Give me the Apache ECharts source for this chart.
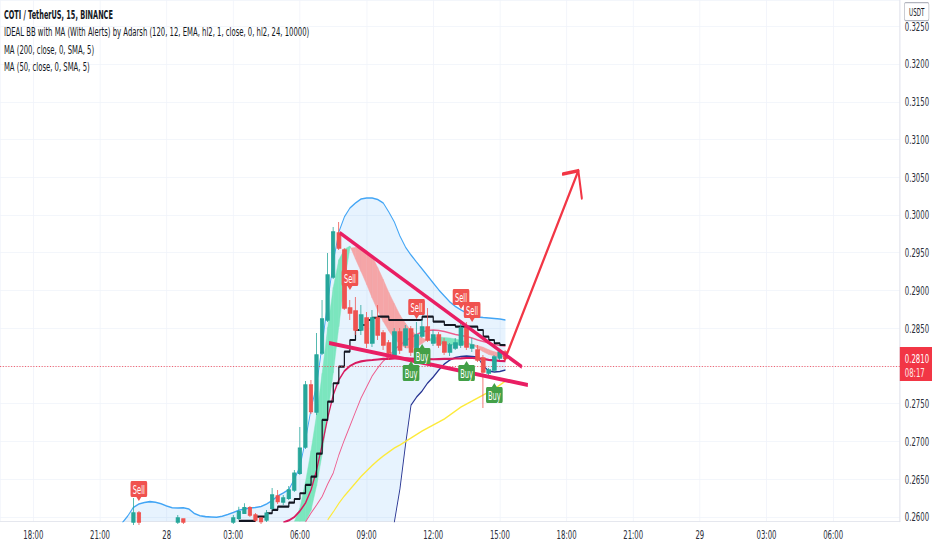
<!DOCTYPE html>
<html><head><meta charset="utf-8">
<script src="https://cdn.jsdelivr.net/npm/echarts/dist/echarts.min.js"></script>
<style>
html,body{margin:0;padding:0;background:#fff;overflow:hidden;}
#wrap{width:932px;height:550px;overflow:hidden;position:relative;background:#fff;}
#chart{width:1680px;height:550px;transform:scaleX(0.5547619);transform-origin:0 0;}
</style></head>
<body><div id="wrap"><div id="chart"></div></div>
<script>
// ---------- DATA (time = hours since 27th 00:00, price in USDT) ----------
const STEP = 0.25; // 15-minute bars

const candleTime  = [22.5,22.75,24.5,24.75,27,27.25,27.5,27.75,28,28.25,28.5,28.75,29,29.25,29.5,29.75,30,30.25,30.5,30.75,31,31.25,31.5,31.75,32,32.25,32.5,32.75,33,33.25,33.5,33.75,34,34.25,34.5,34.75,35,35.25,35.5,35.75,36,36.25,36.5,36.75,37,37.25,37.5,37.75,38,38.25,38.5,38.75,39,39.25];
const candleOpen  = [0.25934,0.26053,0.25934,0.25974,0.25934,0.25983,0.26049,0.26123,0.26026,0.25983,0.25960,0.26115,0.26278,0.26199,0.26248,0.26358,0.26579,0.26927,0.27748,0.27391,0.28172,0.28609,0.29179,0.29762,0.29536,0.28768,0.28728,0.28477,0.28636,0.28305,0.28636,0.28437,0.28305,0.28146,0.28450,0.28278,0.28490,0.28212,0.28397,0.28516,0.28305,0.28411,0.28318,0.28185,0.28238,0.28278,0.28503,0.28238,0.28212,0.28106,0.27907,0.27947,0.28106,0.28185];
const candleClose = [0.26053,0.25934,0.25987,0.25934,0.25987,0.26070,0.26123,0.26026,0.25960,0.25938,0.26049,0.26291,0.26203,0.26252,0.26358,0.26579,0.26910,0.27748,0.27395,0.28146,0.28623,0.29205,0.29775,0.29563,0.28768,0.28702,0.28477,0.28675,0.28305,0.28636,0.28411,0.28278,0.28172,0.28450,0.28212,0.28490,0.28185,0.28411,0.28516,0.28344,0.28411,0.28278,0.28185,0.28278,0.28305,0.28503,0.28252,0.28278,0.28079,0.27921,0.27947,0.28119,0.28185,0.28100];
const candleLow   = [0.25894,0.25894,0.25907,0.25907,0.25907,0.25960,0.26040,0.26000,0.25934,0.25907,0.25934,0.26093,0.26172,0.26159,0.26225,0.26331,0.26556,0.26901,0.27364,0.27351,0.28146,0.28583,0.29152,0.29536,0.28742,0.28609,0.28411,0.28411,0.28238,0.28252,0.28344,0.28212,0.28079,0.28106,0.28159,0.28238,0.28132,0.28172,0.28371,0.28318,0.28265,0.28238,0.28146,0.28132,0.28212,0.28238,0.28212,0.28185,0.28053,0.27444,0.27868,0.27921,0.28079,0.28079];
const candleHigh  = [0.26252,0.26079,0.26026,0.25980,0.26026,0.26136,0.26181,0.26146,0.26053,0.26000,0.26093,0.26384,0.26358,0.26291,0.26411,0.26623,0.27192,0.27801,0.27815,0.28437,0.28874,0.29497,0.29841,0.29907,0.29563,0.28874,0.28914,0.28808,0.28715,0.28742,0.28808,0.28477,0.28344,0.28503,0.28503,0.28543,0.28530,0.28583,0.28609,0.28768,0.28477,0.28450,0.28371,0.28305,0.28371,0.28609,0.28583,0.28371,0.28278,0.28146,0.27973,0.28146,0.28212,0.28212];

// Bollinger-style band (IDEAL BB), starts 27th 22:00
const bandStart = 22.0;
const bandUpper = [0.25921,0.26013,0.26126,0.26172,0.26192,0.26203,0.26195,0.26175,0.26146,0.26122,0.26119,0.26122,0.26106,0.26046,0.26016,0.26004,0.26000,0.25996,0.26009,0.26033,0.26060,0.26089,0.26106,0.26119,0.26126,0.26139,0.26172,0.26219,0.26278,0.26318,0.26364,0.26503,0.26666,0.27020,0.27430,0.27748,0.28278,0.28848,0.29377,0.29775,0.29974,0.30093,0.30159,0.30212,0.30225,0.30225,0.30205,0.30159,0.30040,0.29907,0.29722,0.29576,0.29470,0.29377,0.29285,0.29192,0.29099,0.29007,0.28927,0.28848,0.28788,0.28742,0.28702,0.28669,0.28649,0.28642,0.28636,0.28629,0.28623,0.28609];
const bandLower = [0.2578,0.2577,0.2575,0.2574,0.2574,0.2574,0.2575,0.2576,0.2577,0.2578,0.2579,0.2580,0.2581,0.2583,0.2584,0.2585,0.2586,0.2586,0.2586,0.2585,0.2584,0.2583,0.2582,0.2581,0.2581,0.2580,0.2579,0.2577,0.2574,0.2572,0.2569,0.2563,0.2555,0.2540,0.2525,0.2510,0.2490,0.2470,0.2450,0.2440,0.2435,0.2432,0.2430,0.2430,0.2432,0.2440,0.2470,0.2510,0.2555,0.25934,0.26371,0.26954,0.27483,0.27589,0.27669,0.27775,0.27854,0.27947,0.28026,0.28079,0.28113,0.28126,0.28132,0.28126,0.28119,0.28000,0.27934,0.27921,0.27927,0.27947];

// crimson basis line, starts 05:15
const basisStart = 29.25;
const basisLine = [0.25927,0.25954,0.26000,0.26079,0.26185,0.26358,0.26623,0.26954,0.27312,0.27616,0.27815,0.27934,0.28000,0.28040,0.28060,0.28073,0.28079,0.28086,0.28093,0.28095,0.28099,0.28102,0.28102,0.28099,0.28095,0.28093,0.28091,0.28089,0.28091,0.28093,0.28095,0.28099,0.28102,0.28106,0.28106,0.28102,0.28093,0.28082,0.28075,0.28069,0.28064];

// MA (50) pink, starts 06:15
const ma50Start = 30.25;
const ma50 = [0.25934,0.26053,0.26159,0.26272,0.26437,0.26583,0.26821,0.27020,0.27205,0.27391,0.27576,0.27722,0.27868,0.27974,0.28066,0.28132,0.28212,0.28278,0.28331,0.28377,0.28417,0.28450,0.28470,0.28477,0.28470,0.28457,0.28437,0.28417,0.28404,0.28391,0.28371,0.28344,0.28324,0.28305,0.28285,0.28272,0.28265];

// MA (200) yellow, starts 07:15
const ma200Start = 31.25;
const ma200 = [0.25960,0.26066,0.26179,0.26278,0.26364,0.26450,0.26536,0.26609,0.26682,0.26748,0.26808,0.26861,0.26914,0.26954,0.27000,0.27046,0.27093,0.27139,0.27179,0.27219,0.27258,0.27298,0.27351,0.27404,0.27457,0.27497,0.27536,0.27576,0.27616,0.27656,0.27695,0.27748,0.27801];

// black step line, starts 03:15
const stepStart = 27.25;
const stepLine = [0.25947,0.25947,0.25947,0.26004,0.26004,0.26049,0.26093,0.26136,0.26136,0.26189,0.26238,0.26314,0.26424,0.26534,0.26840,0.27285,0.27527,0.27771,0.27991,0.28189,0.28344,0.28477,0.28543,0.28609,0.28636,0.28653,0.28653,0.28609,0.28609,0.28609,0.28609,0.28609,0.28609,0.28653,0.28653,0.28587,0.28587,0.28543,0.28543,0.28521,0.28521,0.28521,0.28521,0.28477,0.28388,0.28344,0.28301,0.28278,0.28278];

// fast / slow EMA pair (ribbon fill), starts 05:45
const emaStart = 29.75;
const emaFast = [0.25910,0.26119,0.26464,0.26879,0.27354,0.27901,0.28511,0.29040,0.29407,0.29547,0.29589,0.29417,0.29253,0.29082,0.28901,0.28734,0.28588,0.28465,0.28358,0.28291,0.28238,0.28238,0.28252,0.28298,0.28351,0.28375,0.28384,0.28377,0.28371,0.28358,0.28340,0.28318,0.28285,0.28232,0.28189,0.28152,0.28132,0.28119,0.28119];
const emaSlow = [0.2578,0.2583,0.2589,0.26089,0.26415,0.26830,0.27364,0.27910,0.28522,0.29113,0.29563,0.29570,0.29570,0.29530,0.29452,0.29303,0.29144,0.28974,0.28824,0.28676,0.28566,0.28466,0.28415,0.28371,0.28344,0.28318,0.28295,0.28285,0.28278,0.28278,0.28278,0.28287,0.28285,0.28270,0.28248,0.28215,0.28188,0.28172,0.28159];

// signals (time, price at the pointer tip)
const sellTime  = [22.75, 32.25, 35.25, 37.25, 37.75];
const sellPrice = [0.26212, 0.29007, 0.28623, 0.28755, 0.28583];
const buyTime   = [35.0, 35.5, 37.5, 38.75];
const buyPrice  = [0.28066, 0.28291, 0.28066, 0.27775];

// drawings
const trendUpper = [[31.80, 0.29762], [39.99, 0.27987]];
const trendLower = [[31.31, 0.28305], [40.26, 0.27748]];
const arrowFrom = [39.23, 0.28093];
const arrowTo   = [42.53, 0.30587];

const countdownText = '08:17';
const headerLines = [
  'COTI / TetherUS, 15, BINANCE',
  'IDEAL BB with MA (With Alerts) by Adarsh (120, 12, EMA, hl2, 1, close, 0, hl2, 24, 10000)',
  'MA (200, close, 0, SMA, 5)',
  'MA (50, close, 0, SMA, 5)'
];

// axis ranges
const X_MIN = 16.5, X_MAX = 57;
const Y_MIN = 0.2594, Y_MAX = 0.32848;

// ---------- helpers ----------
const FONT = 'DejaVu Sans';
function series(start, vals) { return vals.map((v, i) => [start + i * STEP, v]); }
const bandTimes = bandUpper.map((_, i) => bandStart + i * STEP);
const emaTimes = emaFast.map((_, i) => emaStart + i * STEP);
const lastClose = candleClose[candleClose.length - 1];

function renderBand(params, api) {
  const pts = [];
  for (let i = 0; i < bandTimes.length; i++) pts.push(api.coord([bandTimes[i], bandUpper[i]]));
  for (let i = bandTimes.length - 1; i >= 0; i--) pts.push(api.coord([bandTimes[i], Math.max(bandLower[i], Y_MIN)]));
  return { type: 'polygon', shape: { points: pts }, style: { fill: 'rgba(33,150,243,0.11)' } };
}

function renderRibbon(params, api) {
  const green = '#7be6be', red = '#f5a5a7';
  const ch = [];
  const clampY = v => Math.max(v, Y_MIN);
  for (let i = 0; i < emaTimes.length - 1; i++) {
    const F0 = api.coord([emaTimes[i], clampY(emaFast[i])]), F1 = api.coord([emaTimes[i + 1], clampY(emaFast[i + 1])]);
    const S0 = api.coord([emaTimes[i], clampY(emaSlow[i])]), S1 = api.coord([emaTimes[i + 1], clampY(emaSlow[i + 1])]);
    const d0 = emaFast[i] - emaSlow[i], d1 = emaFast[i + 1] - emaSlow[i + 1];
    if (d0 * d1 >= 0) {
      const c = (d0 + d1) >= 0 ? green : red;
      ch.push({ type: 'polygon', shape: { points: [F0, F1, S1, S0] }, style: { fill: c, stroke: c, lineWidth: 0.6 } });
    } else {
      const r = d0 / (d0 - d1);
      const X = [F0[0] + r * (F1[0] - F0[0]), F0[1] + r * (F1[1] - F0[1])];
      const c0 = d0 > 0 ? green : red, c1 = d1 > 0 ? green : red;
      ch.push({ type: 'polygon', shape: { points: [F0, X, S0] }, style: { fill: c0, stroke: c0, lineWidth: 0.6 } });
      ch.push({ type: 'polygon', shape: { points: [X, F1, S1] }, style: { fill: c1, stroke: c1, lineWidth: 0.6 } });
    }
  }
  return { type: 'group', children: ch };
}

function renderSignal(params, api) {
  const isSell = api.value(2) === 1;
  const p = api.coord([api.value(0), api.value(1)]);
  const w = 30, h = 16, ah = 4, aw = 5;
  const color = isSell ? '#f0524f' : '#43a047';
  let boxY, tri;
  if (isSell) {
    boxY = p[1] - ah - h;
    tri = [[p[0] - aw, p[1] - ah - 0.5], [p[0] + aw, p[1] - ah - 0.5], [p[0], p[1]]];
  } else {
    boxY = p[1] + ah;
    tri = [[p[0] - aw, p[1] + ah + 0.5], [p[0] + aw, p[1] + ah + 0.5], [p[0], p[1]]];
  }
  return { type: 'group', children: [
    { type: 'rect', shape: { x: p[0] - w / 2, y: boxY, width: w, height: h, r: 2 }, style: { fill: color } },
    { type: 'polygon', shape: { points: tri }, style: { fill: color } },
    { type: 'text', style: { text: isSell ? 'Sell' : 'Buy', x: p[0], y: boxY + h / 2 + 0.5, align: 'center', verticalAlign: 'middle', fill: '#ffffff', font: '12px ' + FONT } }
  ] };
}

function renderArrow(params, api) {
  const a = api.coord(arrowFrom), b = api.coord(arrowTo);
  const dx = a[0] - b[0], dy = a[1] - b[1], len = Math.hypot(dx, dy);
  const ux = dx / len, uy = dy / len, L = 28, ang = 48 * Math.PI / 180;
  const rot = (x, y, t) => [x * Math.cos(t) - y * Math.sin(t), x * Math.sin(t) + y * Math.cos(t)];
  const r1 = rot(ux, uy, ang), r2 = rot(ux, uy, -ang);
  const st = { stroke: '#f23645', lineWidth: 3.6, lineCap: 'round', lineJoin: 'round', fill: null };
  return { type: 'group', children: [
    { type: 'line', shape: { x1: a[0], y1: a[1], x2: b[0], y2: b[1] }, style: st },
    { type: 'polyline', shape: { points: [[b[0] + r1[0] * L, b[1] + r1[1] * L], [b[0], b[1]], [b[0] + r2[0] * L, b[1] + r2[1] * L]] }, style: st }
  ] };
}

function renderPriceTag(params, api) {
  const y = api.coord([api.value(0), api.value(1)])[1];
  const cs = params.coordSys;
  const x0 = cs.x + cs.width;
  return { type: 'group', children: [
    { type: 'rect', shape: { x: x0, y: y - 11.5, width: 58, height: 34 }, style: { fill: '#f23645' } },
    { type: 'text', style: { text: api.value(1).toFixed(4), x: x0 + 9, y: y + 0.5, verticalAlign: 'middle', fill: '#ffffff', font: '12.5px ' + FONT } },
    { type: 'text', style: { text: countdownText, x: x0 + 9, y: y + 14.5, verticalAlign: 'middle', fill: '#ffe9ea', font: '12.5px ' + FONT } }
  ] };
}

function xLabel(v) {
  if (Math.abs(v - Math.round(v)) > 1e-6) return '';
  const h = ((Math.round(v) % 24) + 24) % 24;
  if (h === 0) return String(27 + Math.round(v) / 24);
  return (h < 10 ? '0' : '') + h + ':00';
}
function yLabel(v) {
  const k = v / 0.005;
  if (Math.abs(k - Math.round(k)) > 1e-6) return '';
  if (Math.abs(v - lastClose) < 0.0016) return ''; // hidden behind the last-price tag
  return v.toFixed(4);
}

const chart = echarts.init(document.getElementById('chart'), null, { renderer: 'svg', width: 1680, height: 550 });

const lineBase = { type: 'line', symbol: 'none', silent: true, animation: false, clip: true };

chart.setOption({
  animation: false,
  backgroundColor: '#ffffff',
  grid: { left: 0, right: 58, top: 0, bottom: 28.5, containLabel: false },
  xAxis: {
    type: 'value', min: X_MIN, max: X_MAX, minInterval: 3, maxInterval: 3,
    axisLine: { show: true, lineStyle: { color: '#e0e3eb', width: 1 } },
    axisTick: { show: false },
    splitLine: { show: true, lineStyle: { color: '#f0f3fa', width: 1.4 } },
    axisLabel: { formatter: xLabel, color: '#2a2e39', fontFamily: FONT, fontSize: 12.5, margin: 7, showMinLabel: false, showMaxLabel: false }
  },
  yAxis: {
    type: 'value', position: 'right', min: Y_MIN, max: Y_MAX, minInterval: 0.005, maxInterval: 0.005,
    axisLine: { show: true, lineStyle: { color: '#e0e3eb', width: 1.6 } },
    axisTick: { show: false },
    splitLine: { show: true, lineStyle: { color: '#f0f3fa', width: 1 } },
    axisLabel: { formatter: yLabel, color: '#2a2e39', fontFamily: FONT, fontSize: 12.5, margin: 9 }
  },
  graphic: [
    { type: 'text', left: 7, top: 9, z: 50, style: { text: headerLines[0], fill: '#131722', font: 'bold 11.8px ' + FONT } },
    { type: 'text', left: 7, top: 26, z: 50, style: { text: headerLines[1], fill: '#131722', font: '12.4px ' + FONT } },
    { type: 'text', left: 7, top: 43.5, z: 50, style: { text: headerLines[2], fill: '#131722', font: '12.4px ' + FONT } },
    { type: 'text', left: 7, top: 61, z: 50, style: { text: headerLines[3], fill: '#131722', font: '12.4px ' + FONT } },
    { type: 'group', right: 5, top: 2, z: 60, children: [
      { type: 'rect', shape: { x: 0, y: 0, width: 44, height: 18, r: 2 }, style: { fill: '#ffffff', stroke: '#b2b5be', lineWidth: 1.2 } },
      { type: 'text', style: { text: 'USDT', x: 22, y: 9.5, align: 'center', verticalAlign: 'middle', fill: '#131722', font: '10px ' + FONT } }
    ] }
  ],
  series: [
    { type: 'custom', name: 'band fill', renderItem: renderBand, data: [[bandTimes[0], bandUpper[0]]], clip: true, silent: true, z: 1 },
    { type: 'custom', name: 'ribbon', renderItem: renderRibbon, data: [[emaTimes[0], emaFast[0]]], clip: true, silent: true, z: 2 },
    Object.assign({}, lineBase, { name: 'upper', data: series(bandStart, bandUpper), lineStyle: { color: '#42a5f5', width: 1.6 }, z: 3 }),
    Object.assign({}, lineBase, { name: 'lower', data: series(bandStart, bandLower), lineStyle: { color: '#283593', width: 1.6 }, z: 3 }),
    Object.assign({}, lineBase, { name: 'MA 200', data: series(ma200Start, ma200), lineStyle: { color: '#fdea3b', width: 1.6 }, z: 3 }),
    Object.assign({}, lineBase, { name: 'MA 50', data: series(ma50Start, ma50), lineStyle: { color: '#ee5b8d', width: 1.4 }, z: 3 }),
    Object.assign({}, lineBase, { name: 'basis', data: series(basisStart, basisLine), lineStyle: { color: '#d81b60', width: 2.2 }, z: 3 }),
    Object.assign({}, lineBase, { name: 'step', step: 'end', data: series(stepStart, stepLine), lineStyle: { color: '#131722', width: 2.2 }, z: 4 }),
    {
      type: 'candlestick', name: 'COTIUSDT', z: 6, silent: true, barWidth: 7, clip: true,
      encode: { x: 0, y: [1, 2, 3, 4] },
      data: candleTime.map((t, i) => [t, candleOpen[i], candleClose[i], candleLow[i], candleHigh[i]]),
      itemStyle: { color: '#26a69a', color0: '#ef5350', borderColor: '#26a69a', borderColor0: '#ef5350', borderWidth: 1.4 },
      markLine: { silent: true, symbol: ['none', 'none'], label: { show: false }, animation: false,
        lineStyle: { color: '#f23645', type: [2, 3], width: 1 }, data: [{ yAxis: lastClose }] }
    },
    Object.assign({}, lineBase, { name: 'trend upper', data: trendUpper, lineStyle: { color: '#e91e63', width: 4 }, z: 8 }),
    Object.assign({}, lineBase, { name: 'trend lower', data: trendLower, lineStyle: { color: '#e91e63', width: 4 }, z: 8 }),
    { type: 'custom', name: 'signals', renderItem: renderSignal, clip: false, silent: true, z: 9,
      data: sellTime.map((t, i) => [t, sellPrice[i], 1]).concat(buyTime.map((t, i) => [t, buyPrice[i], 0])) },
    { type: 'custom', name: 'arrow', renderItem: renderArrow, data: [arrowFrom], clip: false, silent: true, z: 8 },
    { type: 'custom', name: 'price tag', renderItem: renderPriceTag, data: [[candleTime[candleTime.length - 1], lastClose]], clip: false, silent: true, z: 10 }
  ]
});
</script></body></html>
